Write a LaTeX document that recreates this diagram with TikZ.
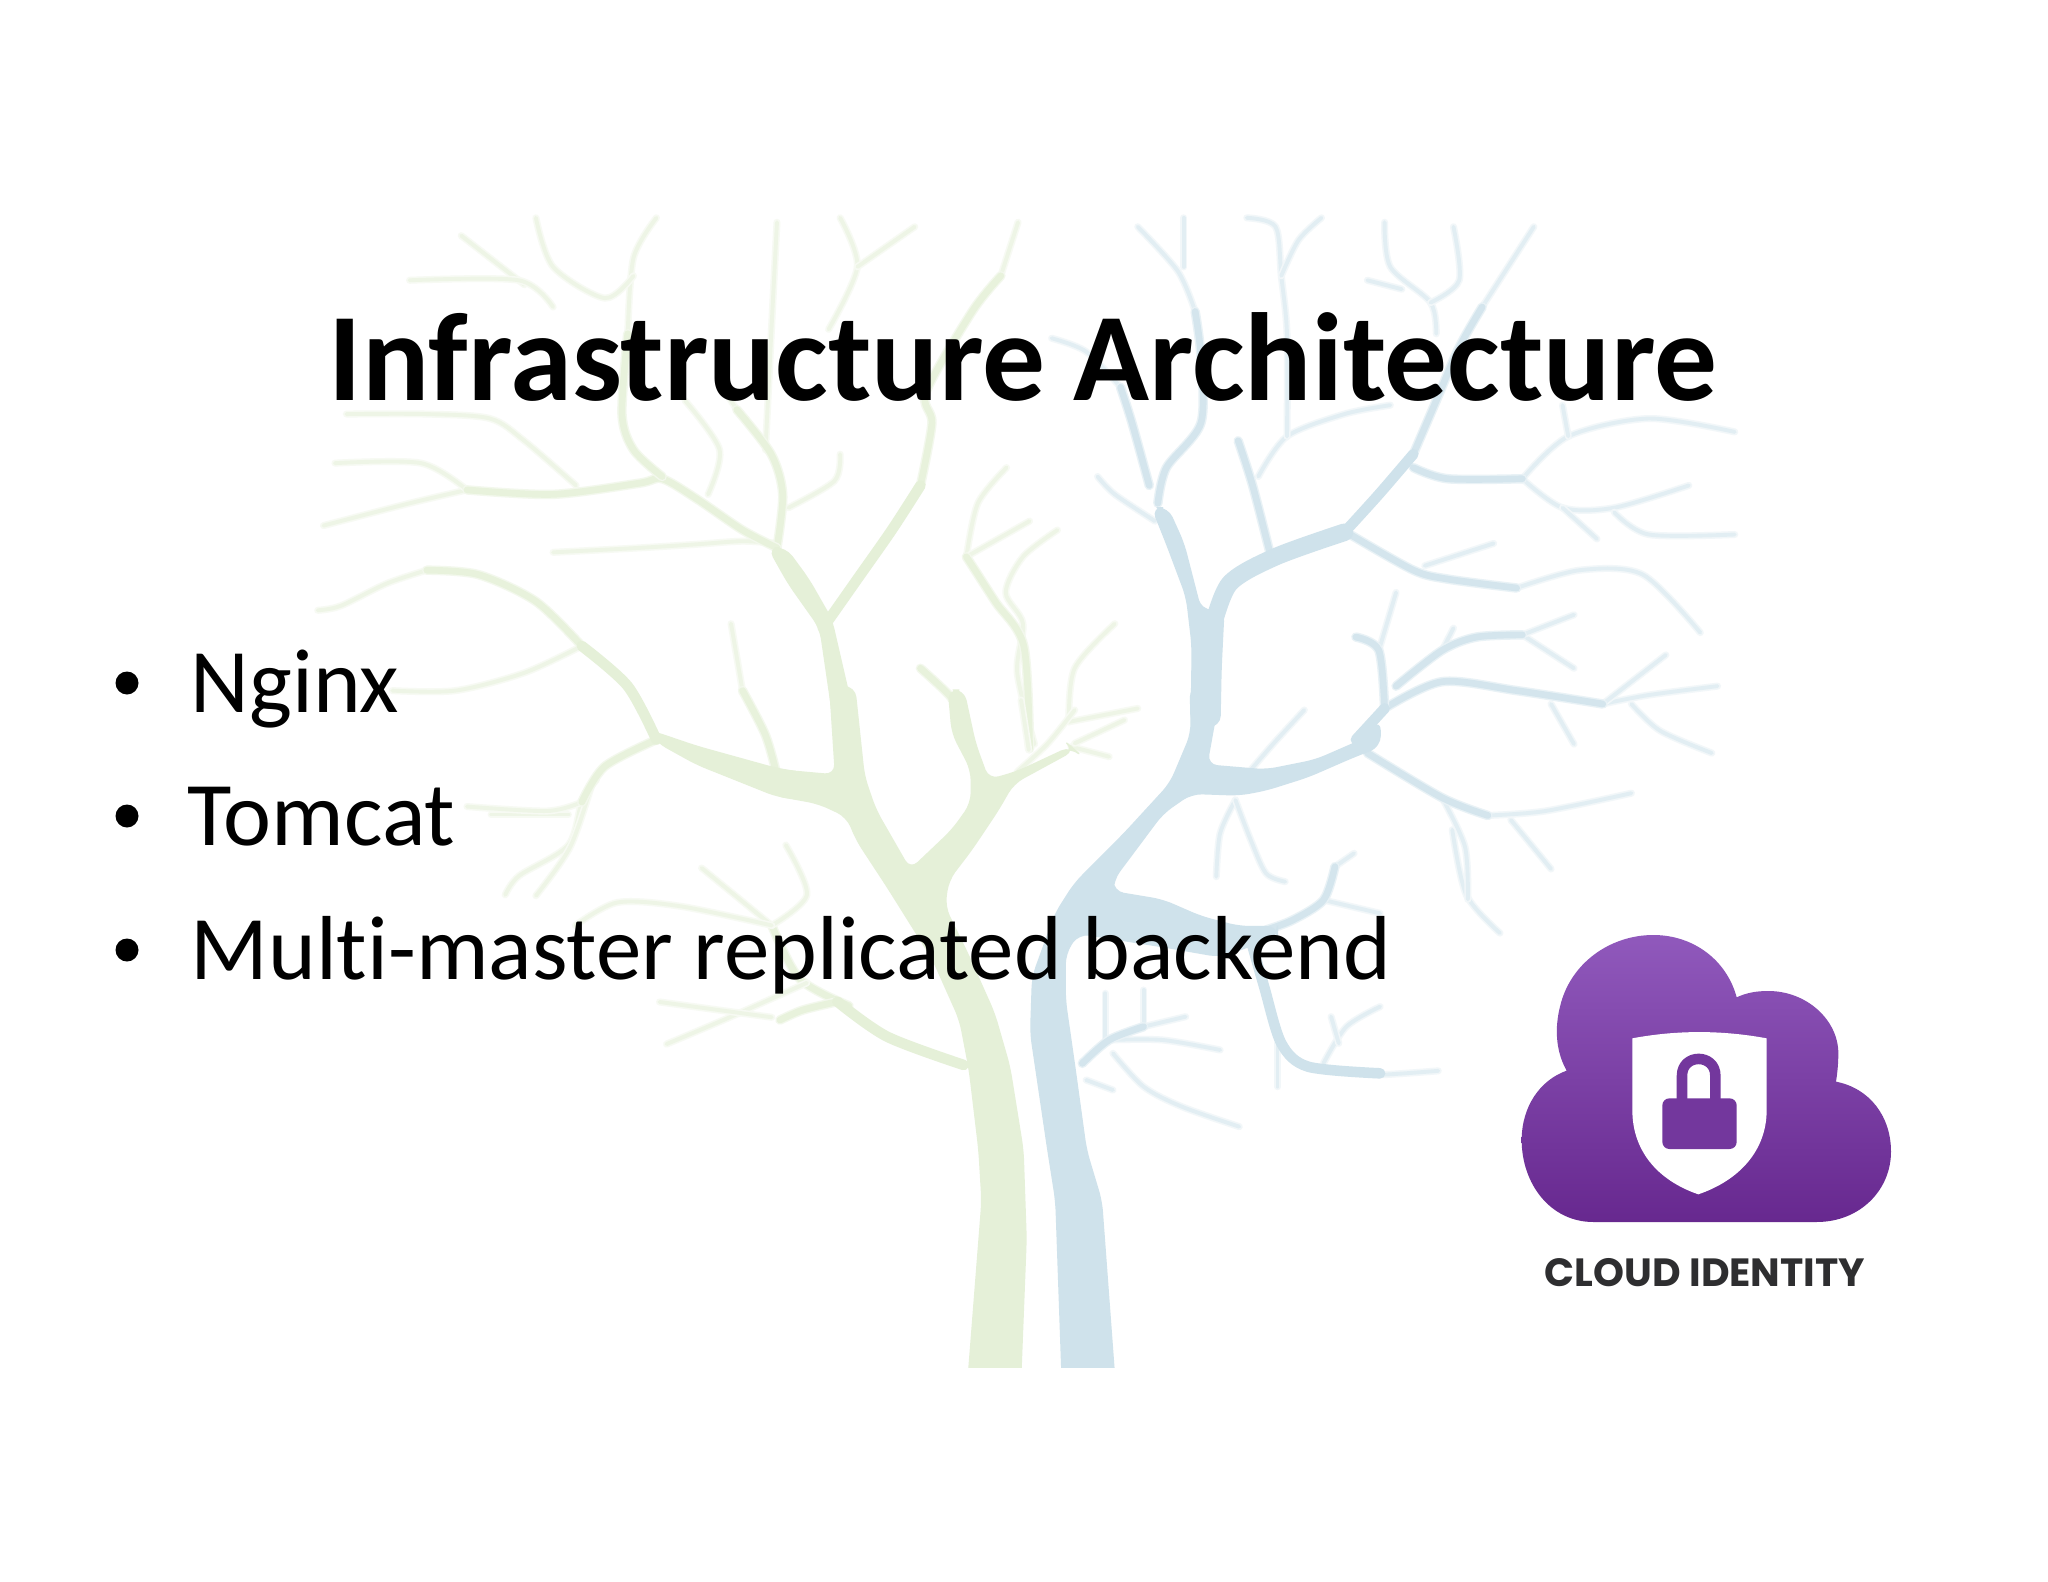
\documentclass[tikz,border=0pt]{standalone}
\usepackage{fontspec}
\setmainfont{Carlito}[Ligatures=NoCommon]
\newfontfamily\logofont{Poppins}
\usetikzlibrary{positioning}
\definecolor{treegreen}{HTML}{E5F0D8}
\definecolor{treeblue}{HTML}{CFE2EB}
\definecolor{cloudtop}{HTML}{9059BC}
\definecolor{cloudbot}{HTML}{67288F}
\definecolor{logotext}{HTML}{2E2E30}

\begin{document}
\begin{tikzpicture}[
    x=0.01cm, y=-0.01cm,
    % --- tree styles ---
    line cap=round, line join=round,
    gfill/.style   = {fill=treegreen, draw=treegreen, line width=0.4pt, rounded corners=3pt},
    glimb/.style   = {draw=treegreen, line width=3pt, smooth},
    gbranch/.style = {draw=treegreen!90, line width=1.9pt, smooth, preaction={draw=treegreen!45, line width=2.7pt}},
    gtwig/.style   = {draw=treegreen!65, line width=1.1pt, smooth, preaction={draw=treegreen!30, line width=2pt}},
    bfill/.style   = {fill=treeblue, draw=treeblue, line width=0.4pt, rounded corners=3pt},
    bwide/.style   = {draw=treeblue, line width=5pt, smooth},
    blimb/.style   = {draw=treeblue, line width=3pt, smooth},
    bbranch/.style = {draw=treeblue!90, line width=1.9pt, smooth, preaction={draw=treeblue!45, line width=2.7pt}},
    btwig/.style   = {draw=treeblue!60, line width=1.1pt, smooth, preaction={draw=treeblue!28, line width=2pt}},
    % --- text styles ---
    titlelbl/.style  = {font=\fontsize{35.65}{40}\selectfont\bfseries, inner sep=0pt},
    bulletlbl/.style = {font=\fontsize{25.85}{30}\selectfont, inner sep=0pt, anchor=base west},
]

\useasboundingbox (0,0) rectangle (2048,1582);
\fill[white] (0,0) rectangle (2048,1582);

\begin{scope}
\clip (195,215) rectangle (1855,1367);

%============ GREEN TREE: CROWN ============
\begin{scope}[shift={(400,780)}, xscale=0.7015, yscale=0.3827]
  \draw[gbranch] plot coordinates {(640,590) (570,520) (530,380)};
  \draw[gtwig] plot coordinates {(530,380) (430,230)};
  \draw[gtwig] plot coordinates {(580,530) (470,620) (380,690)};
  \draw[gtwig] plot coordinates {(530,620) (370,580)};
  \draw[gtwig] plot coordinates {(530,380) (580,300) (550,170)};
  \draw[gtwig] plot coordinates {(530,380) (400,330) (310,320) (250,380)};
  \draw[gtwig] plot coordinates {(150,300) (170,250) (240,170) (260,50) (280,0)};
  \draw[gtwig] plot coordinates {(240,90) (130,90)};
\end{scope}
\begin{scope}[shift={(1000,200)}, xscale=0.574, yscale=0.446]
  \draw[gtwig] plot coordinates {(60,1220) (30,1060) (40,950) (10,880) (40,800) (100,740)};
  \draw[gtwig] plot coordinates {(120,1170) (130,1050) (200,950)};
  \draw[gtwig] plot coordinates {(120,1170) (240,1140)};
\end{scope}
\begin{scope}[shift={(180,200)}, xscale=0.574, yscale=0.446]
  \draw[gtwig] plot coordinates {(1430,170) (1460,50)};
  \draw[gtwig] plot coordinates {(970,470) (950,430)};
  \draw[gtwig] plot coordinates {(780,300) (790,130) (830,40)};
  \draw[gtwig] plot coordinates {(1040,770) (980,765) (900,772) (800,780) (650,790)};
  \draw[gtwig] plot coordinates {(500,650) (400,680) (250,730)};
  \draw[gtwig] plot coordinates {(500,650) (420,590) (270,590)};
  \draw[gtwig] plot coordinates {(690,640) (600,540) (540,490) (430,480) (290,480)};
  \draw[gtwig] plot coordinates {(920,660) (940,560) (880,450)};
  \draw[gtwig] plot coordinates {(790,170) (740,220) (650,150) (620,40)};
  \draw[gtwig] plot coordinates {(600,190) (490,80)};
  \draw[gtwig] plot coordinates {(650,240) (590,180) (400,180)};
  \draw[gtwig] plot coordinates {(1020,560) (1030,300) (1040,50)};
  \draw[gtwig] plot coordinates {(1130,290) (1180,150) (1150,40)};
  \draw[gtwig] plot coordinates {(1180,150) (1280,60)};
  \draw[gtwig] plot coordinates {(1060,690) (1140,630) (1150,570)};
  \draw[gtwig] plot coordinates {(430,830) (360,860) (280,910) (240,920)};
  \draw[gtwig] plot coordinates {(700,1000) (600,1060) (480,1100) (370,1100)};
  \draw[gtwig] plot coordinates {(700,1350) (640,1370) (500,1360)};
  \draw[gtwig] plot coordinates {(720,1300) (680,1450) (620,1560)};
  \draw[gtwig] plot coordinates {(980,1100) (960,950)};
  \draw[gtwig] plot coordinates {(1370,800) (1390,680) (1440,600)};
  \draw[gtwig] plot coordinates {(1370,800) (1480,720)};
  \draw[gbranch] plot coordinates {(1290,640) (1310,500) (1300,430) (1380,250) (1430,170)};
  \draw[gbranch] plot coordinates {(1040,780) (1050,660) (1030,570) (970,470)};
  \draw[gbranch] plot coordinates {(1040,780) (980,740) (900,670) (840,625) (800,635) (650,660) (500,650)};
  \draw[gbranch] plot coordinates {(840,620) (790,560) (770,480) (780,300)};
  \draw[gbranch] plot coordinates {(700,1000) (620,900) (520,840) (430,830)};
  \draw[gbranch] plot coordinates {(830,1210) (740,1270) (700,1350)};
  \draw[gbranch] plot coordinates {(1040,1290) (1020,1200) (980,1100)};
  \draw[gbranch] plot coordinates {(1360,1150) (1340,1110) (1290,1050)};
  \draw[gbranch] plot coordinates {(1480,1230) (1470,1000) (1420,900) (1370,800)};
  \draw[glimb] plot coordinates {(1120,960) (1180,850) (1240,740) (1290,640)};
  \draw[glimb] plot coordinates {(830,1210) (780,1090) (700,1000)};
  \fill[gfill] (1090,1285) -- (1040,1275) -- (900,1225) -- (820,1190) -- (830,1215) -- (900,1265) -- (1040,1337) -- (1090,1345) -- cycle;
  \fill[gfill] (1140,1180) -- (1115,960) -- (1060,860) -- (1025,780) -- (1055,780) -- (1095,850) -- (1135,940) -- (1178,1180) -- cycle;
\end{scope}

%============ BLUE TREE: CROWN ============
\begin{scope}[shift={(400,780)}, xscale=0.7015, yscale=0.3827]
  \draw[btwig] plot coordinates {(1370,765) (1400,770) (1480,760)};
  \draw[btwig] plot coordinates {(1500,130) (1520,300) (1568,400)};
\end{scope}
\begin{scope}[shift={(1000,200)}, xscale=0.574, yscale=0.446]
  \draw[btwig] plot coordinates {(840,240) (930,60)};
  \draw[btwig] plot coordinates {(340,250) (310,160) (240,60)};
  \draw[btwig] plot coordinates {(320,150) (320,40)};
  \draw[btwig] plot coordinates {(210,420) (150,340) (90,310)};
  \draw[btwig] plot coordinates {(270,720) (200,660) (170,620)};
  \draw[btwig] plot coordinates {(450,620) (500,530) (600,480) (680,460)};
  \draw[btwig] plot coordinates {(500,530) (500,300) (490,170) (480,60) (430,40)};
  \draw[btwig] plot coordinates {(490,170) (520,90) (560,40)};
  \draw[btwig] plot coordinates {(900,870) (1010,830) (1120,840) (1220,970)};
  \draw[btwig] plot coordinates {(740,820) (860,770)};
  \draw[btwig] plot coordinates {(910,625) (990,530) (1130,490) (1280,520)};
  \draw[btwig] plot coordinates {(910,625) (980,690) (1070,690) (1200,640)};
  \draw[btwig] plot coordinates {(1070,700) (1130,750) (1280,750)};
  \draw[btwig] plot coordinates {(980,690) (1040,760)};
  \draw[btwig] plot coordinates {(990,530) (980,460)};
  \draw[btwig] plot coordinates {(760,300) (750,230) (680,150) (670,50)};
  \draw[btwig] plot coordinates {(750,230) (800,180) (790,60)};
  \draw[btwig] plot coordinates {(640,180) (700,200)};
  \draw[btwig] plot coordinates {(1050,1130) (1130,1110) (1250,1090)};
  \draw[btwig] plot coordinates {(1100,1130) (1150,1190) (1240,1240)};
  \draw[btwig] plot coordinates {(960,1130) (1000,1220)};
  \draw[btwig] plot coordinates {(1050,1130) (1160,1020)};
  \draw[btwig] plot coordinates {(660,1010) (690,880)};
  \draw[btwig] plot coordinates {(910,975) (1000,1050)};
  \draw[btwig] plot coordinates {(910,975) (1000,930)};
  \draw[btwig] plot coordinates {(770,1010) (790,960)};
  \draw[btwig] plot coordinates {(850,1380) (950,1370) (1100,1330)};
  \draw[btwig] plot coordinates {(770,1340) (810,1450) (815,1568)};
  \draw[btwig] plot coordinates {(890,1390) (960,1500)};
  \draw[bbranch] plot coordinates {(720,570) (760,450) (800,330) (840,240)};
  \draw[bbranch] plot coordinates {(275,680) (290,600) (350,500) (350,350) (340,250)};
  \draw[bbranch] plot coordinates {(260,640) (230,500) (210,420)};
  \draw[bbranch] plot coordinates {(470,790) (440,640) (415,540)};
  \draw[bbranch] plot coordinates {(610,750) (720,830) (780,850) (900,870)};
  \draw[bbranch] plot coordinates {(720,600) (780,625) (910,625)};
  \draw[bbranch] plot coordinates {(670,1140) (770,1080) (900,1100) (1050,1130)};
  \draw[bbranch] plot coordinates {(670,1140) (660,1010) (620,980)};
  \draw[bbranch] plot coordinates {(690,1090) (770,1010) (830,980) (910,975)};
  \draw[bbranch] plot coordinates {(640,1240) (770,1340) (850,1380)};
  \draw[blimb] plot coordinates {(600,745) (660,660) (720,570)};
  \draw[blimb] plot coordinates {(620,1210) (670,1140)};
  \draw[bwide] plot coordinates {(370,960) (400,860) (480,800) (600,745)};
  \fill[bfill] (333,1180) -- (335,1000) -- (325,890) -- (290,770) -- (265,690) -- (292,690) -- (320,770) -- (350,920)
    -- (390,920) -- (385,1050) -- (383,1180) -- cycle;
\end{scope}

%============ BOTH TRUNKS ============
\begin{scope}[shift={(780,700)}, xscale=0.3827, yscale=1/3]
  \draw[gtwig] plot coordinates {(620,215) (700,130) (770,30)};
  \draw[gtwig] plot coordinates {(650,150) (630,0)};
  \draw[gtwig] plot coordinates {(760,140) (860,170)};
  \draw[gtwig] plot coordinates {(770,130) (900,60)};
  \draw[gbranch] plot coordinates {(150,905) (60,930) (0,960)};
  \draw[glimb] plot coordinates {(480,1095) (280,1010) (150,905)};
  \fill[gfill] (490,2060) -- (528,1503) -- (520,1350) -- (495,1110) -- (470,960) -- (400,780) -- (280,560) -- (200,420)
    -- (175,350) -- (100,310) -- (-20,285) -- (-20,208) -- (145,225) -- (130,-40) -- (195,-40) -- (220,230) -- (250,330) -- (340,510)
    -- (450,390) -- (500,310) -- (500,210) -- (450,100) -- (440,-30) -- (480,-30) -- (510,130) -- (545,240) -- (620,215)
    -- (760,140) -- (770,150) -- (610,250) -- (570,330) -- (500,450) -- (440,540) -- (430,620) -- (490,760) -- (560,940)
    -- (600,1100) -- (635,1350) -- (643,1617) -- (628,2060) -- cycle;
  \draw[btwig] plot coordinates {(1450,500) (1500,460)};
  \draw[btwig] plot coordinates {(1420,600) (1568,640)};
  \draw[btwig] plot coordinates {(1190,300) (1150,400) (1140,530)};
  \draw[btwig] plot coordinates {(1190,300) (1230,420) (1270,520) (1320,545)};
  \draw[btwig] plot coordinates {(1230,210) (1290,130) (1370,30)};
  \draw[btwig] plot coordinates {(950,980) (1060,950)};
  \draw[btwig] plot coordinates {(860,1020) (1000,1020) (1150,1050)};
  \draw[btwig] plot coordinates {(850,1020) (850,880)};
  \draw[btwig] plot coordinates {(950,980) (950,870)};
  \draw[btwig] plot coordinates {(870,1060) (950,1160) (1050,1220) (1200,1280)};
  \draw[btwig] plot coordinates {(800,1140) (870,1170)};
  \draw[btwig] plot coordinates {(1300,1030) (1300,1160)};
  \draw[btwig] plot coordinates {(1420,1090) (1480,980) (1568,920)};
  \draw[btwig] plot coordinates {(1460,1030) (1440,950)};
  \draw[bbranch] plot coordinates {(1270,690) (1340,660) (1420,600) (1450,500)};
  \draw[bbranch] plot coordinates {(790,1090) (860,1020) (950,980)};
  \draw[blimb] plot coordinates {(1230,720) (1265,860) (1310,1030) (1380,1100) (1568,1120)};
  \fill[bfill] (738,2060) -- (721,1503) -- (700,1350) -- (655,1000) -- (660,830) -- (720,640) -- (770,550) -- (900,400)
    -- (1020,250) -- (1075,100) -- (1072,-40) -- (1152,-40) -- (1130,100) -- (1115,195) -- (1270,210) -- (1400,180)
    -- (1520,120) -- (1568,60) -- (1568,140) -- (1500,170) -- (1380,230) -- (1270,270) -- (1200,285) -- (1075,280)
    -- (1000,340) -- (870,540) -- (870,575) -- (1000,600) -- (1100,650) -- (1200,680) -- (1300,680) -- (1300,710)
    -- (1150,770) -- (1000,740) -- (780,700) -- (745,760) -- (745,900) -- (770,1100) -- (800,1350) -- (840,1503) -- (876,2060) -- cycle;
\end{scope}
\end{scope}

%============ TITLE ============
\node (title) [titlelbl, anchor=base] at (1023,400) {Infrastructure Architecture};

%============ BULLET LIST ============
\node (nginx) [bulletlbl] at (190,712) {Nginx};
\node (tomcat) [bulletlbl] at (187,845) {Tomcat};
\node (backend) [bulletlbl] at (190,979) {Multi-master replicated backend};

\foreach \t in {nginx,tomcat,backend}
  \fill (127,0 |- \t.base) +(0,-29) circle (11.5);

%============ CLOUD LOGO ============
\begin{scope}[shift={(1480,910)}, scale=1/3]
  \shade[top color=cloudtop, bottom color=cloudbot]
    (340,936) .. controls (210,936) and (125,820) .. (125,690)
    .. controls (125,590) and (180,510) .. (260,482)
    .. controls (225,420) and (225,350) .. (240,290)
    .. controls (270,160) and (390,75) .. (520,75)
    .. controls (640,75) and (740,150) .. (770,262)
    .. controls (800,248) and (830,243) .. (865,243)
    .. controls (980,243) and (1075,330) .. (1075,430)
    .. controls (1075,460) and (1072,490) .. (1068,515)
    .. controls (1170,535) and (1233,620) .. (1233,725)
    .. controls (1233,840) and (1140,936) .. (1010,936) -- cycle;
  % shield
  \fill[white] (457,385) .. controls (590,360) and (725,360) .. (860,385)
    -- (860,600) .. controls (860,720) and (780,810) .. (655,853)
    .. controls (530,810) and (457,720) .. (457,600) -- cycle;
  % padlock
  \fill[cloudbot!70!cloudtop, rounded corners=2pt] (547,565) rectangle (770,717);
  \draw[cloudbot!70!cloudtop, line width=3pt, line cap=butt] (606,575) -- (606,497)
    .. controls (606,430) and (706,430) .. (706,497) -- (706,575);
\end{scope}
\node (logo) [font=\logofont\fontsize{11.2}{12}\selectfont\bfseries, text=logotext, inner sep=0pt] at (1705,1273) {CLOUD IDENTITY};

\end{tikzpicture}
\end{document}
